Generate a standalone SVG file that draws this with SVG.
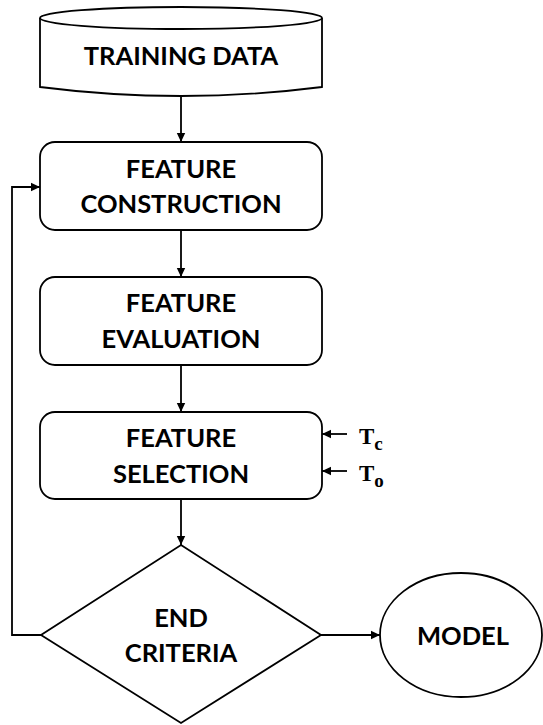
<svg xmlns="http://www.w3.org/2000/svg" width="543" height="725" viewBox="0 0 543 725">
  <style>
    .shape { fill: #ffffff; stroke: #000000; stroke-width: 1.8; }
    .wire { fill: none; stroke: #000000; stroke-width: 1.8; marker-end: url(#arrow); }
    .label { font-family: Lato, "Open Sans", sans-serif; font-weight: 700; font-size: 25.5px; fill: #000000; text-anchor: middle; }
    .param { font-family: "Liberation Serif", serif; font-weight: 700; font-size: 23px; fill: #000000; }
    .sub { font-size: 19px; }
  </style>
  <defs>
    <marker id="arrow" markerWidth="10" markerHeight="10" refX="9" refY="5" orient="auto" markerUnits="userSpaceOnUse">
      <path d="M0,0.8 L9,5 L0,9.2 Z" fill="#000000"/>
    </marker>
  </defs>

  <!-- connectors -->
  <g id="connectors">
    <line class="wire" x1="181" y1="96" x2="181" y2="142"/>
    <line class="wire" x1="181" y1="230" x2="181" y2="277"/>
    <line class="wire" x1="181" y1="365" x2="181" y2="412"/>
    <line class="wire" x1="181" y1="499" x2="181" y2="545"/>
    <line class="wire" x1="321" y1="635" x2="380" y2="635"/>
    <polyline class="wire" points="41,635 12,635 12,187 40,187"/>
    <line class="wire" x1="347" y1="434" x2="322" y2="434"/>
    <line class="wire" x1="347" y1="471" x2="322" y2="471"/>
  </g>

  <!-- data store -->
  <g id="training-data">
    <path class="shape" d="M40,18 L40,87 Q181,105 322,87 L322,18"/>
    <ellipse class="shape" cx="181" cy="18" rx="141" ry="11"/>
    <text class="label" x="181" y="65">TRAINING DATA</text>
  </g>

  <g id="feature-construction">
    <rect class="shape" x="40" y="142" width="282" height="88" rx="15"/>
    <text class="label" x="181" y="178">FEATURE</text>
    <text class="label" x="181" y="213">CONSTRUCTION</text>
  </g>

  <g id="feature-evaluation">
    <rect class="shape" x="40" y="277" width="282" height="88" rx="15"/>
    <text class="label" x="181" y="312">FEATURE</text>
    <text class="label" x="181" y="348">EVALUATION</text>
  </g>

  <g id="feature-selection">
    <rect class="shape" x="40" y="412" width="282" height="87" rx="15"/>
    <text class="label" x="181" y="447">FEATURE</text>
    <text class="label" x="181" y="483">SELECTION</text>
  </g>

  <g id="param-tc">
    <text class="param" x="359" y="444">T<tspan class="sub" dy="6">c</tspan></text>
  </g>
  <g id="param-to">
    <text class="param" x="359" y="481">T<tspan class="sub" dy="6">o</tspan></text>
  </g>

  <g id="end-criteria">
    <polygon class="shape" points="181,545 321,635 181,723 41,635"/>
    <text class="label" x="181" y="627">END</text>
    <text class="label" x="181" y="662">CRITERIA</text>
  </g>

  <g id="model">
    <ellipse class="shape" cx="461" cy="635" rx="81" ry="62"/>
    <text class="label" x="463" y="645">MODEL</text>
  </g>
</svg>
